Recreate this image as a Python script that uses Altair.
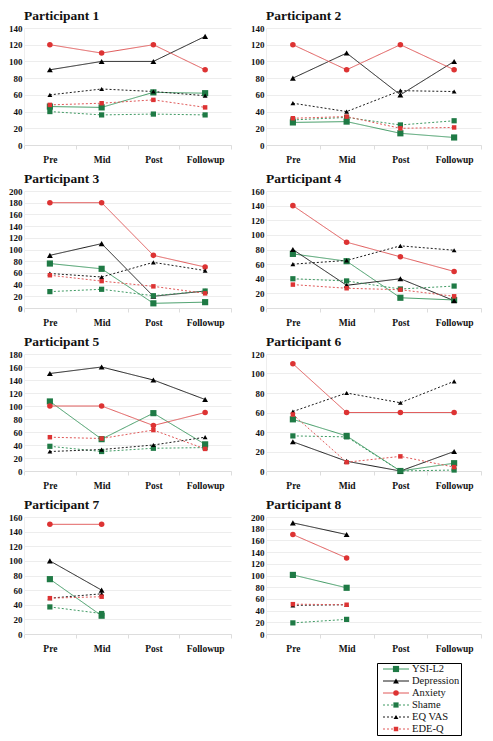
import altair as alt
import pandas as pd

phases = ["Pre", "Mid", "Post", "Followup"]
series = ["YSI-L2", "Depression", "Anxiety", "Shame", "EQ VAS", "EDE-Q"]
point_colors = ["#1f7a45", "#000000", "#dd3333", "#1f7a45", "#000000", "#dd3333"]
line_colors = ["#3f9a63", "#1a1a1a", "#e05858", "#3f9a63", "#1a1a1a", "#e05858"]
shapes = ["square", "triangle-up", "circle", "square", "triangle-up", "square"]
dashes = [[1, 0], [1, 0], [1, 0], [2, 2], [2, 2], [2, 2]]
sizes = [38, 20, 14, 38, 20, 38]

participants = [1, 2, 3, 4, 5, 6, 7, 8]
y_max = [140, 140, 200, 160, 180, 120, 160, 200]

ysi = [[46, 45, 63, 62], [27, 28, 14, 9], [76, 67, 8, 10], [74, 64, 14, 11],
       [107, 49, 89, 41], [53, 36, 0, 8], [75, 25], [101, 79]]
depression = [[90, 100, 100, 130], [80, 110, 60, 100], [90, 110, 20, 29], [80, 31, 40, 10],
              [150, 160, 140, 110], [30, 10, 0, 20], [100, 60], [190, 170]]
anxiety = [[120, 110, 120, 90], [120, 90, 120, 90], [180, 180, 90, 70], [140, 90, 70, 50],
           [100, 100, 70, 90], [110, 60, 60, 60], [150, 150], [170, 130]]
shame = [[40, 36, 37, 36], [30, 33, 24, 29], [28, 32, 21, 29], [40, 37, 26, 30],
         [38, 30, 35, 36], [36, 35, 0, 1], [37, 28], [19, 25]]
eq_vas = [[60, 67, 64, 59], [50, 40, 65, 64], [59, 53, 78, 64], [60, 65, 85, 79],
          [30, 33, 40, 52], [61, 80, 70, 92], [49, 55], [49, 50]]
ede_q = [[48, 50, 54, 45], [32, 34, 20, 21], [56, 46, 37, 25], [32, 27, 25, 16],
         [52, 50, 63, 34], [58, 9, 15, 4], [49, 51], [51, 50]]

all_series = [ysi, depression, anxiety, shame, eq_vas, ede_q]

rows = []
for s_name, s_vals in zip(series, all_series):
    for p, vals in zip(participants, s_vals):
        for ph, v in zip(phases, vals):
            rows.append({"participant": p, "phase": ph, "series": s_name, "value": v})
df = pd.DataFrame(rows)

SERIF = "Times New Roman, Liberation Serif, DejaVu Serif, serif"
H = 117
WIDTHS = [207, 215]

stroke_enc = alt.Stroke("series:N", scale=alt.Scale(domain=series, range=line_colors), legend=None)
dash_enc = alt.StrokeDash("series:N", scale=alt.Scale(domain=series, range=dashes), legend=None)
fill_enc = alt.Fill("series:N", scale=alt.Scale(domain=series, range=point_colors), legend=None)
shape_enc = alt.Shape("series:N", scale=alt.Scale(domain=series, range=shapes), legend=None)
size_enc = alt.Size("series:N", scale=alt.Scale(domain=series, range=sizes), legend=None)


def panel(idx):
    p = participants[idx]
    d = df[df.participant == p]
    x = alt.X(
        "phase:N",
        sort=phases,
        scale=alt.Scale(type="band", domain=phases, paddingInner=0, paddingOuter=0),
        bandPosition=0.5,
        axis=alt.Axis(title=None, labelAngle=0, labelFont=SERIF, labelFontSize=9.5,
                      labelFontWeight="bold", labelColor="#111111", tickBand="extent",
                      tickColor="#dddddd", tickSize=4, domainColor="#dddddd",
                      labelPadding=5, grid=False),
    )
    y = alt.Y(
        "value:Q",
        scale=alt.Scale(domain=[0, y_max[idx]], nice=False, zero=True),
        axis=alt.Axis(title=None, values=list(range(0, y_max[idx] + 1, 20)),
                      labelFont=SERIF, labelFontSize=9, labelFontWeight="bold",
                      labelColor="#111111", grid=True, gridColor="#ededed",
                      ticks=False, domain=True, domainColor="#eeeeee", labelPadding=2),
    )
    base = alt.Chart(d).encode(x=x, y=y)
    lines = base.mark_line(strokeWidth=1).encode(stroke=stroke_enc, strokeDash=dash_enc,
                                                 detail="series:N")
    pts = base.mark_point(filled=True, opacity=1, strokeWidth=0).encode(
        fill=fill_enc, shape=shape_enc, size=size_enc)
    return alt.layer(lines, pts).properties(
        width=WIDTHS[idx % 2], height=H,
        title=alt.TitleParams(f"Participant {p}", anchor="start", frame="group",
                              font=SERIF, fontSize=13.5, fontWeight="bold",
                              color="#111111", offset=2),
    )


panel_rows = [alt.hconcat(panel(2 * r), panel(2 * r + 1), spacing=18) for r in range(4)]

leg_df = pd.DataFrame({"series": series})
ly = alt.Y("series:N", sort=series,
           scale=alt.Scale(type="point", domain=series, padding=0.5), axis=None)
leg_rule = alt.Chart(leg_df).mark_rule(strokeWidth=1).encode(
    x=alt.value(6), x2=alt.value(32), y=ly, stroke=stroke_enc, strokeDash=dash_enc)
leg_pt = alt.Chart(leg_df).mark_point(filled=True, opacity=1, strokeWidth=0).encode(
    x=alt.value(19), y=ly, fill=fill_enc, shape=shape_enc, size=size_enc)
leg_txt = alt.Chart(leg_df).mark_text(align="left", baseline="middle", font=SERIF,
                                      fontSize=10.5, color="#111111").encode(
    x=alt.value(35), y=ly, text="series:N")
legend = alt.layer(leg_rule, leg_pt, leg_txt).properties(
    width=84, height=72, view=alt.ViewBackground(stroke="black", strokeWidth=1))

spacer = alt.Chart(pd.DataFrame({"a": [0]})).mark_point(opacity=0).encode(
    x=alt.value(0), y=alt.value(0)).properties(width=352, height=72)

bottom = alt.hconcat(spacer, legend, spacing=0)

chart = alt.vconcat(*panel_rows, bottom, spacing=7).properties(
    padding={"left": 0, "top": 0, "right": 0, "bottom": 0}
).configure(background="white").configure_view(strokeWidth=0)

chart.save("out.html", embed_options={"renderer": "svg", "actions": False})
